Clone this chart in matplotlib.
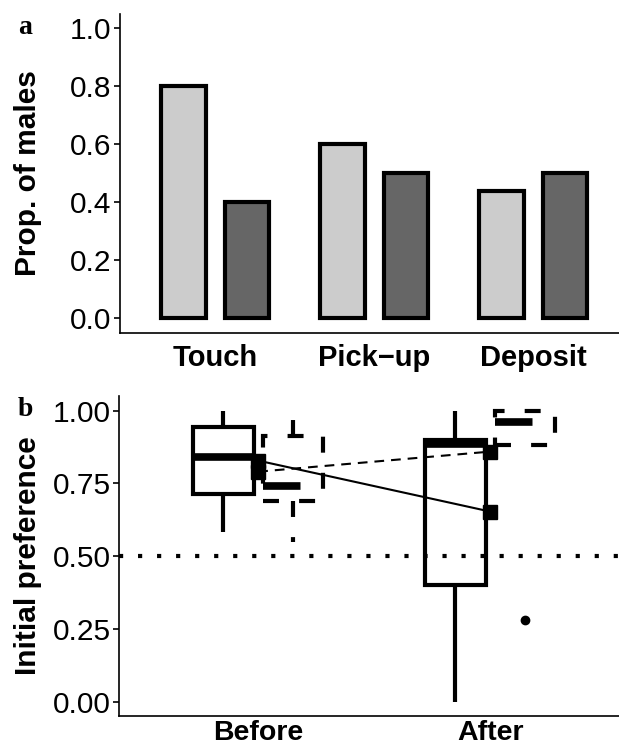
import numpy as np
import matplotlib.pyplot as plt

plt.rcParams['font.family'] = ['Liberation Sans', 'DejaVu Sans']
plt.rcParams['lines.scale_dashes'] = False

# -----------------------------------------------------
# DATA
# -----------------------------------------------------

behaviours = ["Touch", "Pick\u2212up", "Deposit"]
prop_light = [0.80, 0.60, 0.44]
prop_dark = [0.40, 0.50, 0.50]

periods = ["Before", "After"]

# boxplot stats, solid group
solid_med = [0.842, 0.885]
solid_q1 = [0.713, 0.401]
solid_q3 = [0.945, 0.900]
solid_lo = [0.584, 0.0]
solid_hi = [1.0, 1.0]
solid_out = [[], []]

# boxplot stats, dashed group
dash_med = [0.742, 0.960]
dash_q1 = [0.690, 0.880]
dash_q3 = [0.911, 1.0]
dash_lo = [0.550, 0.880]
dash_hi = [0.975, 1.0]
dash_out = [[], [0.281]]

# means
mean_solid = [0.828, 0.653]
mean_dashed = [0.790, 0.859]

# -----------------------------------------------------
# FIGURE
# -----------------------------------------------------

W, H = 619, 751
fig = plt.figure(figsize=(W / 100, H / 100), dpi=100)

ax1 = fig.add_axes([120 / W, 1 - 332.8 / H, 499 / W, 319 / H])
ax2 = fig.add_axes([119 / W, 1 - 716.2 / H, 500 / W, 320.2 / H])

# -----------------------------------------------------
# PANEL A
# -----------------------------------------------------

x = np.arange(1, len(behaviours) + 1)

ax1.bar(x - 0.2, prop_light, width=0.28, color="#CCCCCC",
        edgecolor="black", linewidth=3)
ax1.bar(x + 0.2, prop_dark, width=0.28, color="#666666",
        edgecolor="black", linewidth=3)

ax1.set_xlim(0.4, 0.4 + 499 / 159)
ax1.set_ylim(-0.05, 1.05)
ax1.set_xticks(x)
ax1.set_xticklabels(behaviours, fontweight="bold", fontsize=21)
ax1.set_yticks([0, 0.2, 0.4, 0.6, 0.8, 1.0])
ax1.set_yticklabels(["0.0", "0.2", "0.4", "0.6", "0.8", "1.0"])
ax1.set_ylabel("Prop. of males", fontweight="bold", fontsize=21.5)
ax1.yaxis.set_label_coords(-0.156, 0.5)
ax1.tick_params(axis="x", length=0, pad=8)

# -----------------------------------------------------
# PANEL B
# -----------------------------------------------------

xb = np.arange(1, len(periods) + 1)


def make_stats(med, q1, q3, lo, hi, out):
    return [dict(med=med[i], q1=q1[i], q3=q3[i], whislo=lo[i],
                 whishi=hi[i], fliers=out[i]) for i in range(len(med))]


dash_pat = (0, (11.5, 14.5))

ax2.bxp(make_stats(solid_med, solid_q1, solid_q3, solid_lo, solid_hi, solid_out),
        positions=xb - 0.15, widths=0.26, showcaps=False, patch_artist=True,
        boxprops=dict(facecolor="white", edgecolor="black", linewidth=3),
        whiskerprops=dict(color="black", linewidth=3, solid_capstyle="butt"),
        medianprops=dict(color="black", linewidth=5.5, solid_capstyle="butt"),
        flierprops=dict(marker="o", markerfacecolor="black",
                        markeredgecolor="black", markersize=6))

ax2.bxp(make_stats(dash_med, dash_q1, dash_q3, dash_lo, dash_hi, dash_out),
        positions=xb + 0.15, widths=0.26, showcaps=False, patch_artist=True,
        boxprops=dict(facecolor="white", edgecolor="black", linewidth=3,
                      linestyle=dash_pat),
        whiskerprops=dict(color="black", linewidth=3, linestyle=dash_pat),
        medianprops=dict(color="black", linewidth=5.5,
                         linestyle=(0, (27, 60))),
        flierprops=dict(marker="o", markerfacecolor="black",
                        markeredgecolor="black", markersize=6))

ax2.axhline(0.5, color="black", linewidth=3, linestyle=(0, (3, 10.7)),
            zorder=4)

ax2.plot(xb, mean_solid, color="black", linewidth=1.5, marker="s",
         markersize=9.5, zorder=5)
ax2.plot(xb, mean_dashed, color="black", linewidth=1.5, linestyle=(0, (7, 5)),
         marker="s", markersize=9.5, zorder=5)

ax2.set_xlim(0.4, 0.4 + 500 / 232)
ax2.set_ylim(-0.05, 1.05)
ax2.set_xticks(xb)
ax2.set_xticklabels(periods, fontweight="bold", fontsize=20.5)
ax2.set_yticks([0, 0.25, 0.5, 0.75, 1.0])
ax2.set_yticklabels(["0.00", "0.25", "0.50", "0.75", "1.00"])
ax2.set_ylabel("Initial preference", fontweight="bold", fontsize=21.5)
ax2.yaxis.set_label_coords(-0.154, 0.5)
ax2.tick_params(axis="x", length=0, pad=3)

# -----------------------------------------------------
# FORMATTING
# -----------------------------------------------------

for ax in [ax1, ax2]:
    ax.spines["top"].set_visible(False)
    ax.spines["right"].set_visible(False)
    ax.spines["left"].set_linewidth(1.2)
    ax.spines["bottom"].set_linewidth(1.2)
    ax.tick_params(axis="y", length=4, width=1.2, labelsize=21.5, pad=2)

fig.text(25 / W, 1 - 27 / H, "a", family="Liberation Serif",
         fontweight="bold", fontsize=20, ha="center", va="center")
fig.text(25 / W, 1 - 410 / H, "b", family="Liberation Serif",
         fontweight="bold", fontsize=20, ha="center", va="center")

plt.savefig("out.png", dpi=100)
